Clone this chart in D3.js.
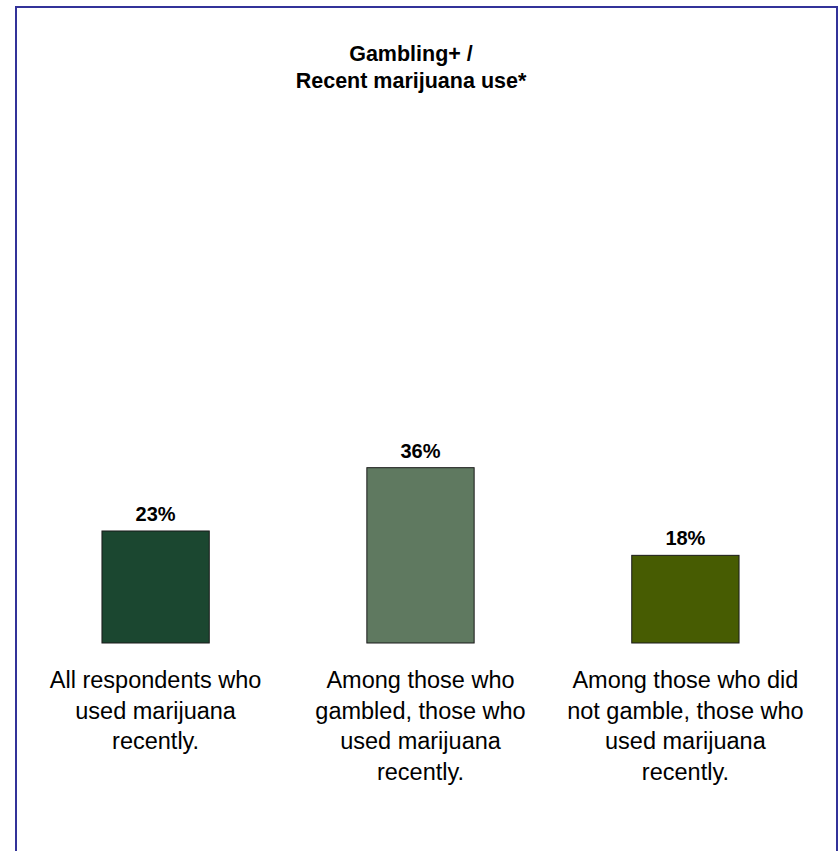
<!DOCTYPE html>
<html>
<head>
<meta charset="utf-8">
<script src="https://cdn.jsdelivr.net/npm/d3@7"></script>
<style>
  html, body { margin: 0; padding: 0; background: #fff; }
  svg { display: block; }
  text { font-family: "Liberation Sans", Arial, sans-serif; fill: #000; }
</style>
</head>
<body>
<svg id="chart" width="839" height="851"></svg>
<script>
const titleLines = ["Gambling+ /", "Recent marijuana use*"];
const categories = [
  "All respondents who used marijuana recently.",
  "Among those who gambled, those who used marijuana recently.",
  "Among those who did not gamble, those who used marijuana recently."
];
const categoryLines = [
  ["All respondents who", "used marijuana", "recently."],
  ["Among those who", "gambled, those who", "used marijuana", "recently."],
  ["Among those who did", "not gamble, those who", "used marijuana", "recently."]
];
const values = [23, 36, 18];
const valueLabels = ["23%", "36%", "18%"];
const colors = ["#1b4730", "#5f7960", "#475c02"];

const svg = d3.select("#chart");

// frame
svg.append("rect")
  .attr("x", 16).attr("y", 7)
  .attr("width", 821).attr("height", 900)
  .attr("fill", "none")
  .attr("stroke", "#333399")
  .attr("stroke-width", 2);

// title
const title = svg.append("text")
  .attr("x", 411).attr("y", 61)
  .attr("text-anchor", "middle")
  .style("font-size", "21.5px")
  .style("font-weight", "bold");
title.selectAll("tspan").data(titleLines).join("tspan")
  .attr("x", 411)
  .attr("dy", (d, i) => i === 0 ? 0 : 26.5)
  .text(d => d);

const x = d3.scaleBand()
  .domain(categories)
  .range([22.5, 818.5])
  .paddingInner(0.595)
  .paddingOuter(0.3);

const y = d3.scaleLinear().domain([0, 100]).range([643, 156]);

const data = categories.map((c, i) => ({ c, v: values[i], label: valueLabels[i], color: colors[i], lines: categoryLines[i] }));

svg.append("g").selectAll("rect").data(data).join("rect")
  .attr("x", d => x(d.c))
  .attr("y", d => y(d.v))
  .attr("width", x.bandwidth())
  .attr("height", d => y(0) - y(d.v))
  .attr("fill", d => d.color)
  .attr("stroke", "#1a1a1a")
  .attr("stroke-width", 1);

svg.append("g").selectAll("text").data(data).join("text")
  .attr("x", d => x(d.c) + x.bandwidth() / 2)
  .attr("y", d => y(d.v) - 10)
  .attr("text-anchor", "middle")
  .style("font-size", "20px")
  .style("font-weight", "bold")
  .text(d => d.label);

const cat = svg.append("g").selectAll("text").data(data).join("text")
  .attr("x", d => x(d.c) + x.bandwidth() / 2)
  .attr("y", 688)
  .attr("text-anchor", "middle")
  .style("font-size", "23.5px");
cat.selectAll("tspan").data(d => d.lines.map(l => ({ l, cx: x(d.c) + x.bandwidth() / 2 }))).join("tspan")
  .attr("x", d => d.cx)
  .attr("dy", (d, i) => i === 0 ? 0 : 30.5)
  .text(d => d.l);
</script>
</body>
</html>
